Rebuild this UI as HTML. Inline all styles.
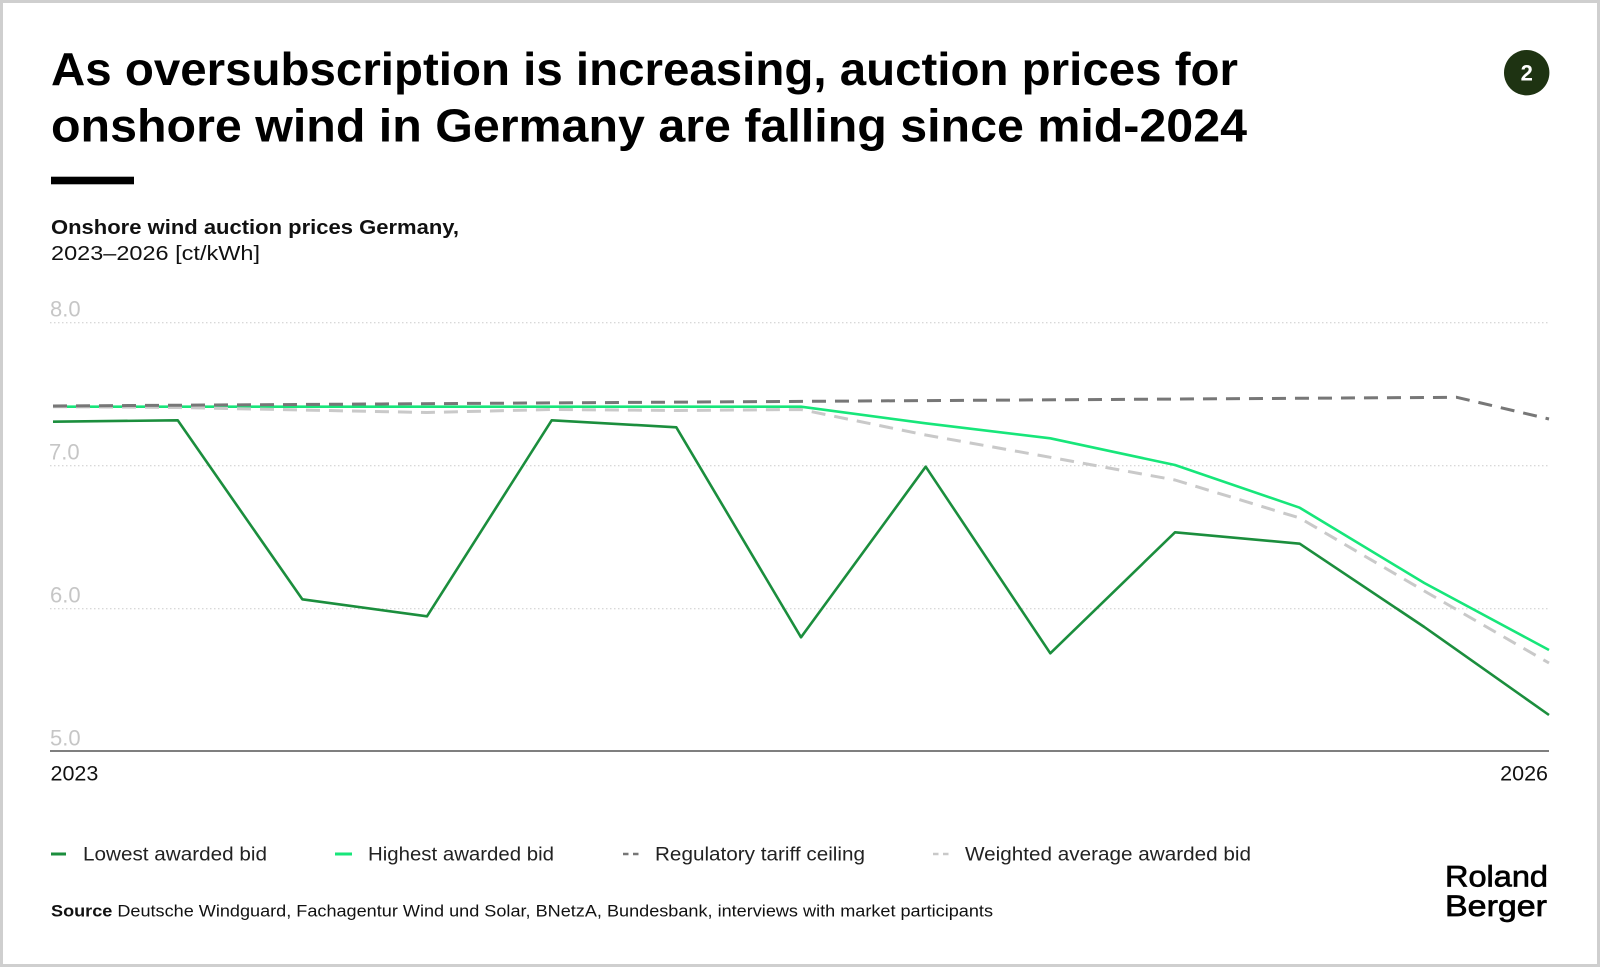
<!DOCTYPE html>
<html><head><meta charset="utf-8"><style>
html,body{margin:0;padding:0;background:#fff;}
svg{display:block;}
text{font-family:"Liberation Sans",Arial,sans-serif;}
</style></head><body>
<svg width="1600" height="967" viewBox="0 0 1600 967" xmlns="http://www.w3.org/2000/svg">
<rect x="0" y="0" width="1600" height="967" fill="#fff"/>
<rect x="1.5" y="1.5" width="1597" height="964" fill="none" stroke="#cfcfcf" stroke-width="3"/>

<!-- Title -->
<text x="51" y="85" font-size="46" font-weight="bold" fill="#000" textLength="1187" lengthAdjust="spacingAndGlyphs">As oversubscription is increasing, auction prices for</text>
<text x="51" y="141.7" font-size="46" font-weight="bold" fill="#000" textLength="1196" lengthAdjust="spacingAndGlyphs">onshore wind in Germany are falling since mid-2024</text>
<rect x="51" y="176.7" width="83" height="7.6" fill="#000"/>

<!-- badge -->
<circle cx="1526.7" cy="72.7" r="22.7" fill="#1e3312"/>
<text x="1526.7" y="80.5" font-size="22" font-weight="bold" fill="#fff" text-anchor="middle">2</text>

<!-- Subtitle -->
<text x="51" y="234" font-size="20.5" font-weight="bold" fill="#111" textLength="408" lengthAdjust="spacingAndGlyphs">Onshore wind auction prices Germany,</text>
<text x="51" y="260" font-size="20.5" fill="#111" textLength="209" lengthAdjust="spacingAndGlyphs">2023–2026 [ct/kWh]</text>

<!-- gridlines -->
<g stroke="#cccccc" stroke-width="1" stroke-dasharray="1.5 2.5">
<line x1="50" y1="322.7" x2="1549" y2="322.7"/>
<line x1="50" y1="465.7" x2="1549" y2="465.7"/>
<line x1="50" y1="608.7" x2="1549" y2="608.7"/>
</g>
<line x1="50" y1="751" x2="1549" y2="751" stroke="#333" stroke-width="1.2"/>

<!-- y labels -->
<g font-size="22" fill="#c6c6c6">
<text x="50" y="316.7">8.0</text>
<text x="49" y="459.3">7.0</text>
<text x="50" y="602.7">6.0</text>
<text x="50" y="745.7">5.0</text>
</g>
<!-- x labels -->
<text x="50.5" y="780.5" font-size="21.5" fill="#111">2023</text>
<text x="1548" y="780.5" font-size="21.5" fill="#111" text-anchor="end">2026</text>

<!-- series -->
<g fill="none" stroke-linejoin="round">
<polyline stroke="#17e67a" stroke-width="2.6" points="53,406.7 177.7,406.7 302.3,406.7 427,406.7 551.7,406.7 676.3,406.7 801,406.7 925.7,423.3 1050.3,438.3 1175,465 1299.7,507.7 1424.3,583 1549,650"/>
<polyline stroke="#c9c9c9" stroke-width="3" stroke-dasharray="14 9" points="53,406.7 177.7,407.5 302.3,410 427,412.5 551.7,409.5 676.3,410.5 801,409.5 925.7,435 1050.3,457.3 1175,480 1299.7,518 1424.3,591 1549,663"/>
<polyline stroke="#777777" stroke-width="3" stroke-dasharray="14 9" points="53,406 1456.7,397.3 1549,419"/>
<polyline stroke="#1b8e3d" stroke-width="2.6" points="53,421.7 177.7,420.3 302.3,599.3 427,616.3 551.7,420.3 676.3,427.3 801,637.3 925.7,466.7 1050.3,653.3 1175,532.3 1299.7,543.7 1424.3,627 1549,715"/>
</g>

<!-- legend -->
<line x1="51" y1="854" x2="66" y2="854" stroke="#1b8e3d" stroke-width="3"/>
<text x="83" y="860.7" font-size="19.5" fill="#222" textLength="184" lengthAdjust="spacingAndGlyphs">Lowest awarded bid</text>
<line x1="335" y1="854" x2="352" y2="854" stroke="#17e67a" stroke-width="3"/>
<text x="368" y="860.7" font-size="19.5" fill="#222" textLength="186" lengthAdjust="spacingAndGlyphs">Highest awarded bid</text>
<line x1="623" y1="854" x2="639" y2="854" stroke="#777" stroke-width="2.5" stroke-dasharray="5.5 4.5"/>
<text x="655" y="860.7" font-size="19.5" fill="#222" textLength="210" lengthAdjust="spacingAndGlyphs">Regulatory tariff ceiling</text>
<line x1="933" y1="854" x2="949" y2="854" stroke="#c9c9c9" stroke-width="2.5" stroke-dasharray="5.5 4.5"/>
<text x="965" y="860.7" font-size="19.5" fill="#222" textLength="286" lengthAdjust="spacingAndGlyphs">Weighted average awarded bid</text>

<!-- source -->
<text x="51" y="916.7" font-size="16.5" fill="#111" textLength="942" lengthAdjust="spacingAndGlyphs"><tspan font-weight="bold">Source</tspan> Deutsche Windguard, Fachagentur Wind und Solar, BNetzA, Bundesbank, interviews with market participants</text>

<!-- logo -->
<text x="1445" y="886.7" font-size="29.5" fill="#000" stroke="#000" stroke-width="0.7" textLength="103" lengthAdjust="spacingAndGlyphs">Roland</text>
<text x="1445" y="916" font-size="29.5" fill="#000" stroke="#000" stroke-width="0.7" textLength="102" lengthAdjust="spacingAndGlyphs">Berger</text>
</svg>
</body></html>
